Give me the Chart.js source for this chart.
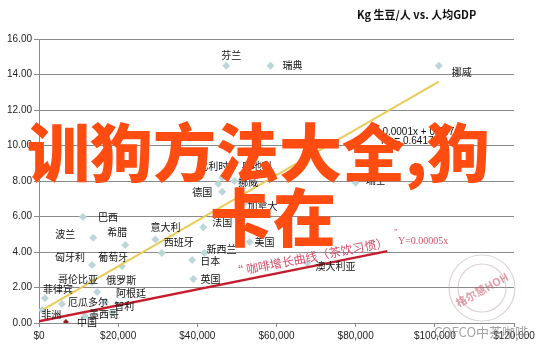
<!DOCTYPE html>
<html>
<head>
<meta charset="utf-8">
<script src="https://cdn.jsdelivr.net/npm/chart.js@4.4.1/dist/chart.umd.min.js"></script>
<style>
  html, body { margin: 0; padding: 0; background: #fff; }
  #wrap { width: 545px; height: 355px; }
</style>
</head>
<body>
<div id="wrap"><canvas id="gdpChart" width="545" height="355"></canvas></div>
<script>
// 国家 / 人均GDP ($) / 人均生豆消费 (kg)
const countries = ['芬兰', '瑞典', '挪威', '比利时', '奥地利', '挪威', '德国', '瑞士', '加拿大',
  '巴西', '波兰', '希腊', '意大利', '西班牙', '法国', '美国', '新西兰', '日本', '英国', '澳大利亚',
  '匈牙利', '葡萄牙', '哥伦比亚', '俄罗斯', '菲律宾', '厄瓜多尔', '阿根廷', '智利', '墨西哥', '非洲'];
const gdp = [47300, 58500, 101000, 46300, 49400, 45300, 46300, 80000, 51900,
  11100, 13700, 21800, 29400, 31000, 41500, 53200, 41800, 38700, 39000, 67800,
  13400, 21000, 13400, 14700, 1500, 5800, 16700, 18500, 11600, 800];
const kg = [14.5, 14.5, 14.5, 8.2, 8.0, 7.85, 7.4, 7.9, 6.75,
  5.97, 4.8, 4.4, 4.7, 3.95, 5.4, 4.56, 3.94, 3.55, 2.48, 3.38,
  3.27, 3.2, 2.3, 1.75, 1.4, 1.07, 1.2, 0.62, 0.4, 0.73];

const chinaGdp = [6800];
const chinaKg = [0.06];

// 趋势线端点
const trendX = [1000, 101000];
const trendY = [0.75, 13.6];
const teaX = [0, 88000];
const teaY = [0.1, 4.05];

const yTicks = [0, 2, 4, 6, 8, 10, 12, 14, 16];
const xTicks = [0, 20000, 40000, 60000, 80000, 100000, 120000];

// 标签相对点的偏移 (px)
const labelOffsets = [[5, -10], [22, 0], [23, 7], [-9, -11], [22, -15], [30, -1], [-20, 1], [20, -3], [18, 3],
  [25, 0], [-28, -4], [-8, -13], [10, -12], [17, -11], [19, -5], [15, 0], [17, -4], [18, 1], [17, 0], [28, 3],
  [-22, -8], [-9, -9], [-14, -3], [24, -12], [13, -9], [26, -2], [26, -8], [12, -6], [19, -2], [9, 4]];

const cjk = "'Noto Sans CJK SC', 'Noto Sans', sans-serif";

const toPts = (xs, ys) => xs.map((x, i) => ({ x: x, y: ys[i] }));

const pointLabels = {
  id: 'pointLabels',
  afterDatasetsDraw(chart) {
    const ctx = chart.ctx;
    const meta = chart.getDatasetMeta(2);
    ctx.save();
    ctx.font = '10px ' + cjk;
    ctx.fillStyle = '#111';
    ctx.textAlign = 'center';
    ctx.textBaseline = 'middle';
    meta.data.forEach((el, i) => {
      const off = labelOffsets[i];
      ctx.fillText(countries[i], el.x + off[0], el.y + off[1]);
    });
    const cm = chart.getDatasetMeta(3).data[0];
    ctx.fillText('中国', cm.x + 21, cm.y);
    ctx.restore();
  }
};

const overlays = {
  id: 'overlays',
  afterDraw(chart) {
    const ctx = chart.ctx;
    ctx.save();
    // 标题
    ctx.fillStyle = '#111';
    ctx.font = 'bold 11px ' + cjk;
    ctx.textBaseline = 'middle';
    ctx.textAlign = 'left';
    ctx.fillText('Kg 生豆/人 vs. 人均GDP', 357, 15);

    // 回归公式
    ctx.font = '10px "Liberation Sans", sans-serif';
    ctx.fillText('y = 0.0001x + 0.647', 366, 132);
    ctx.fillText('R² = 0.6417', 381, 141);

    // 手写注释
    ctx.fillStyle = '#d6506a';
    ctx.save();
    ctx.translate(232, 272);
    ctx.rotate(-0.19);
    ctx.font = '12px ' + cjk;
    ctx.fillText('“ 咖啡增长曲线（茶饮习惯）', 0, 0);
    ctx.restore();
    ctx.font = '10px "Liberation Serif", serif';
    ctx.fillText('Y=0.00005x', 398, 241);
    ctx.font = '8px "Liberation Serif", serif';
    ctx.fillText('”', 394, 233);

    // 水印
    ctx.strokeStyle = 'rgba(180,160,160,0.45)';
    ctx.lineWidth = 1.2;
    ctx.beginPath();
    ctx.arc(482, 288, 33, 0, Math.PI * 2);
    ctx.stroke();
    ctx.beginPath();
    ctx.arc(482, 288, 24, 0, Math.PI * 2);
    ctx.stroke();
    ctx.save();
    ctx.translate(482, 290);
    ctx.rotate(-0.5);
    ctx.fillStyle = 'rgba(200,90,110,0.6)';
    ctx.font = 'bold 11px ' + cjk;
    ctx.textAlign = 'center';
    ctx.fillText('格尔慧HOH', 0, 0);
    ctx.restore();
    ctx.fillStyle = 'rgba(140,140,140,0.8)';
    ctx.font = '13px ' + cjk;
    ctx.fillText('COFCO中茶咖啡', 434, 332);

    // 大字覆盖
    ctx.fillStyle = '#ff4d12';
    ctx.font = '900 63px ' + cjk;
    ctx.textBaseline = 'middle';
    ctx.fillText('训狗方法大全,狗', 27, 152);
    ctx.fillText('卡在', 210, 217);
    ctx.restore();
  }
};

new Chart(document.getElementById('gdpChart'), {
  type: 'scatter',
  data: {
    datasets: [
      {
        type: 'line',
        data: toPts(trendX, trendY),
        borderColor: '#e8cc58',
        borderWidth: 2,
        pointRadius: 0,
        fill: false
      },
      {
        type: 'line',
        data: toPts(teaX, teaY),
        borderColor: '#c41e2e',
        borderWidth: 2.5,
        pointRadius: 0,
        fill: false
      },
      {
        data: toPts(gdp, kg),
        pointStyle: 'rectRot',
        pointRadius: 4,
        backgroundColor: '#bcd7d8',
        borderWidth: 0
      },
      {
        data: toPts(chinaGdp, chinaKg),
        pointStyle: 'rectRot',
        pointRadius: 3,
        backgroundColor: '#8e1d24',
        borderWidth: 0
      }
    ]
  },
  options: {
    responsive: false,
    animation: false,
    layout: { padding: { top: 39, right: 31, left: 0, bottom: 0 } },
    scales: {
      x: {
        type: 'linear',
        min: 0,
        max: 120000,
        afterFit: (s) => { s.height = 32; },
        afterBuildTicks: (s) => { s.ticks = xTicks.map(v => ({ value: v })); },
        grid: { drawOnChartArea: false, tickLength: 4, color: '#8a8a8a' },
        border: { color: '#8a8a8a' },
        ticks: {
          autoSkip: false,
          maxRotation: 0,
          padding: 3,
          color: '#222',
          font: { family: "'Liberation Sans', sans-serif", size: 10 },
          callback: (v) => '$' + v.toLocaleString('en-US')
        }
      },
      y: {
        min: 0,
        max: 16,
        afterFit: (s) => { s.width = 39; },
        afterBuildTicks: (s) => { s.ticks = yTicks.map(v => ({ value: v })); },
        grid: { color: '#8a8a8a', tickLength: 5 },
        border: { color: '#8a8a8a' },
        ticks: {
          padding: 2,
          color: '#222',
          font: { family: "'Liberation Sans', sans-serif", size: 10 },
          callback: (v) => v.toFixed(2)
        }
      }
    },
    plugins: {
      legend: { display: false },
      tooltip: { enabled: false }
    }
  },
  plugins: [pointLabels, overlays]
});
</script>
</body>
</html>
